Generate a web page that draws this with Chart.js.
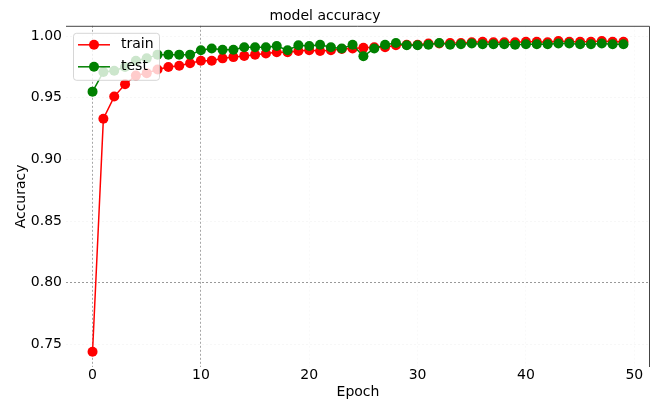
<!DOCTYPE html>
<html>
<head>
<meta charset="utf-8">
<script src="https://cdn.jsdelivr.net/npm/chart.js@4"></script>
<style>
  html, body { margin: 0; padding: 0; background: #fff; }
  #wrap { width: 657px; height: 403px; }
</style>
</head>
<body>
<div id="wrap"><canvas id="accChart"></canvas></div>
<script>
"use strict";

/* Data */
const epochs = [0, 1, 2, 3, 4, 5, 6, 7, 8, 9, 10, 11, 12, 13, 14, 15, 16, 17, 18, 19,
  20, 21, 22, 23, 24, 25, 26, 27, 28, 29, 30, 31, 32, 33, 34, 35, 36, 37, 38, 39,
  40, 41, 42, 43, 44, 45, 46, 47, 48, 49];

const trainAcc = [0.744, 0.933, 0.951, 0.961, 0.968, 0.970, 0.973, 0.975, 0.976, 0.978,
  0.980, 0.980, 0.982, 0.983, 0.984, 0.985, 0.986, 0.987, 0.987, 0.988,
  0.9885, 0.988, 0.9886, 0.9896, 0.990, 0.9905, 0.991, 0.991, 0.9926, 0.993,
  0.993, 0.994, 0.994, 0.9945, 0.9945, 0.995, 0.9955, 0.995, 0.995, 0.995,
  0.9955, 0.9955, 0.995, 0.996, 0.9955, 0.9955, 0.9955, 0.996, 0.9955, 0.9955];

const testAcc = [0.955, 0.971, 0.972, 0.975, 0.980, 0.982, 0.985, 0.985, 0.985, 0.985,
  0.9886, 0.990, 0.989, 0.989, 0.991, 0.991, 0.991, 0.992, 0.9886, 0.9926,
  0.992, 0.993, 0.991, 0.990, 0.993, 0.9837, 0.990, 0.993, 0.9945, 0.9926,
  0.9926, 0.993, 0.9945, 0.993, 0.9935, 0.994, 0.9935, 0.9935, 0.9935, 0.993,
  0.9935, 0.9935, 0.9935, 0.994, 0.994, 0.9935, 0.9935, 0.994, 0.9935, 0.9935];

const seriesNames = ["train", "test"];
const yTicks = [0.75, 0.80, 0.85, 0.90, 0.95, 1.00];
const xTicks = [0, 10, 20, 30, 40, 50];

const FONT = "DejaVu Sans";

function toPoints(xs, ys) {
  return xs.map((x, i) => ({ x: x, y: ys[i] }));
}

/* Ramar upptill och till höger, som i originalet */
const spinePlugin = {
  id: "spines",
  afterDatasetsDraw(chart) {
    const { ctx, chartArea: a } = chart;
    ctx.save();
    ctx.strokeStyle = "#444";
    ctx.lineWidth = 1;
    ctx.beginPath();
    ctx.moveTo(a.left, a.top + 0.5);
    ctx.lineTo(a.right - 0.5, a.top + 0.5);
    ctx.lineTo(a.right - 0.5, a.bottom);
    ctx.stroke();
    ctx.restore();
  }
};

/* Legend inne i diagrammet, linje + cirkel */
const innerLegend = {
  id: "innerLegend",
  afterDraw(chart) {
    const { ctx, chartArea: a } = chart;
    const x0 = a.left + 7, y0 = a.top + 7, w = 86, h = 47;
    ctx.save();
    ctx.fillStyle = "rgba(255,255,255,0.8)";
    ctx.strokeStyle = "rgba(204,204,204,0.8)";
    ctx.lineWidth = 1;
    ctx.beginPath();
    ctx.roundRect(x0 + 0.5, y0 + 0.5, w, h, 3);
    ctx.fill();
    ctx.stroke();
    chart.data.datasets.forEach((ds, i) => {
      const cy = y0 + 12 + i * 22;
      ctx.strokeStyle = ds.borderColor;
      ctx.lineWidth = 1.5;
      ctx.beginPath();
      ctx.moveTo(x0 + 5, cy);
      ctx.lineTo(x0 + 37, cy);
      ctx.stroke();
      ctx.fillStyle = ds.backgroundColor;
      ctx.beginPath();
      ctx.arc(x0 + 21, cy, 5, 0, Math.PI * 2);
      ctx.fill();
      ctx.fillStyle = "#000";
      ctx.font = "14px '" + FONT + "'";
      ctx.textBaseline = "middle";
      ctx.textAlign = "left";
      ctx.fillText(ds.label, x0 + 48, cy);
    });
    ctx.restore();
  }
};

function createChart() {
  const ctx = document.getElementById("accChart");
  new Chart(ctx, {
    type: "line",
    data: {
      datasets: [{
        label: seriesNames[0],
        data: toPoints(epochs, trainAcc),
        borderColor: "#ff0000",
        backgroundColor: "#ff0000",
        borderWidth: 1.5,
        pointRadius: 5,
        pointBorderWidth: 0,
        pointHoverRadius: 5,
        order: 2
      }, {
        label: seriesNames[1],
        data: toPoints(epochs, testAcc),
        borderColor: "#008000",
        backgroundColor: "#008000",
        borderWidth: 1.5,
        pointRadius: 5,
        pointBorderWidth: 0,
        pointHoverRadius: 5,
        order: 1
      }]
    },
    options: {
      animation: false,
      responsive: true,
      maintainAspectRatio: false,
      layout: { padding: { right: 7, left: 0, top: 0, bottom: 0 } },
      plugins: {
        legend: { display: false },
        tooltip: { enabled: false },
        title: {
          display: true,
          text: "model accuracy",
          color: "#000",
          font: { family: FONT, size: 14, weight: "normal" },
          padding: { top: 8, bottom: 1 }
        }
      },
      scales: {
        x: {
          type: "linear",
          min: -2.45,
          max: 51.45,
          afterBuildTicks: (s) => { s.ticks = xTicks.map(v => ({ value: v })); },
          afterFit: (s) => { s.height = 36; },
          ticks: {
            color: "#000",
            padding: 0,
            font: { family: FONT, size: 14 }
          },
          grid: {
            drawTicks: false,
            color: (c) => (c.tick && (c.tick.value === 0 || c.tick.value === 10)) ? "rgba(0,0,0,0.35)" : "rgba(0,0,0,0.025)"
          },
          border: { display: false, dash: [2, 2] },
          title: {
            display: true,
            text: "Epoch",
            color: "#000",
            font: { family: FONT, size: 14 },
            padding: { top: 0, bottom: 2 }
          }
        },
        y: {
          min: 0.7317,
          max: 1.0084,
          afterBuildTicks: (s) => { s.ticks = yTicks.map(v => ({ value: v })); },
          afterFit: (s) => { s.width = 66; },
          ticks: {
            color: "#000",
            padding: 4,
            font: { family: FONT, size: 14 },
            callback: (v) => Number(v).toFixed(2)
          },
          grid: {
            drawTicks: false,
            color: (c) => (c.tick && Math.abs(c.tick.value - 0.80) < 1e-6) ? "rgba(0,0,0,0.4)" : "rgba(0,0,0,0.03)"
          },
          border: { display: false, dash: [2, 2] },
          title: {
            display: true,
            text: "Accuracy",
            color: "#000",
            font: { family: FONT, size: 14 },
            padding: { top: 13, bottom: 0 }
          }
        }
      }
    },
    plugins: [spinePlugin, innerLegend]
  });
}

window.onload = createChart;
</script>
</body>
</html>
